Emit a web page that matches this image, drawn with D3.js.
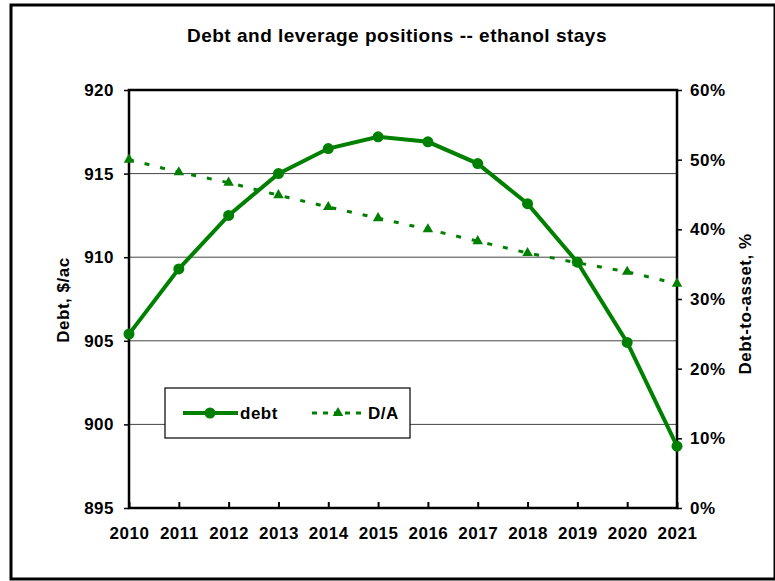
<!DOCTYPE html>
<html>
<head>
<meta charset="utf-8">
<script src="https://cdn.jsdelivr.net/npm/d3@7"></script>
<style>
  body { margin: 0; background: #fff; }
  svg text { font-family: "Liberation Sans", Arial, sans-serif; font-weight: bold; fill: #000; letter-spacing: 0.5px; }
</style>
</head>
<body>
<div id="chart"></div>
<script>
// Chart data
const years = [2010, 2011, 2012, 2013, 2014, 2015, 2016, 2017, 2018, 2019, 2020, 2021];
const debt = [905.4, 909.3, 912.5, 915.0, 916.5, 917.2, 916.9, 915.6, 913.2, 909.7, 904.9, 898.7];
const debtToAsset = [0.500, 0.482, 0.467, 0.449, 0.432, 0.416, 0.400, 0.383, 0.366, 0.352, 0.339, 0.322];
const leftTicks = [895, 900, 905, 910, 915, 920];
const rightTicks = [0, 0.1, 0.2, 0.3, 0.4, 0.5, 0.6];

const settings = {
    width: 775,
    height: 581,
    left: 129,
    right: 677,
    top: 90,
    bottom: 508,
    green: "#008000",
    dash: "5,11",
};

const svg = d3.select("#chart").append("svg")
    .attr("width", settings.width)
    .attr("height", settings.height);

// outer frame
svg.append("rect")
    .attr("x", 11).attr("y", 5)
    .attr("width", 764).attr("height", 574)
    .attr("fill", "none").attr("stroke", "#000").attr("stroke-width", 3);

svg.append("text")
    .attr("x", 397).attr("y", 42)
    .attr("text-anchor", "middle")
    .style("font-size", "19px")
    .text("Debt and leverage positions -- ethanol stays");

const x = d3.scalePoint()
    .domain(years)
    .range([settings.left, settings.right]);

const yLeft = d3.scaleLinear()
    .domain([895, 920])
    .range([settings.bottom, settings.top]);

const yRight = d3.scaleLinear()
    .domain([0, 0.6])
    .range([settings.bottom, settings.top]);

// gridlines
svg.append("g")
    .selectAll("line")
    .data(leftTicks.slice(1, -1))
    .join("line")
    .attr("x1", settings.left).attr("x2", settings.right)
    .attr("y1", d => yLeft(d)).attr("y2", d => yLeft(d))
    .attr("stroke", "#444").attr("stroke-width", 1);

// plot area border
svg.append("rect")
    .attr("x", settings.left).attr("y", settings.top)
    .attr("width", settings.right - settings.left)
    .attr("height", settings.bottom - settings.top)
    .attr("fill", "none").attr("stroke", "#000").attr("stroke-width", 2.5);

// axes
const leftAxis = svg.append("g")
    .attr("transform", `translate(${settings.left},0)`)
    .call(d3.axisLeft(yLeft).tickValues(leftTicks).tickSize(5).tickPadding(10).tickFormat(d3.format("d")));

const rightAxis = svg.append("g")
    .attr("transform", `translate(${settings.right},0)`)
    .call(d3.axisRight(yRight).tickValues(rightTicks).tickSize(5).tickPadding(8).tickFormat(d3.format(".0%")));

const bottomAxis = svg.append("g")
    .attr("transform", `translate(0,${settings.bottom})`)
    .call(d3.axisBottom(x).tickSize(-6).tickPadding(19));

[leftAxis, rightAxis, bottomAxis].forEach(g => {
    g.select(".domain").remove();
    g.selectAll("line").attr("stroke", "#000").attr("stroke-width", 1.5);
    g.selectAll("text").style("font-size", "17px").attr("font-family", null);
});
bottomAxis.selectAll("line").attr("stroke-width", 2);

// axis titles
svg.append("text")
    .attr("transform", "translate(69,300) rotate(-90)")
    .attr("text-anchor", "middle")
    .style("font-size", "17px")
    .text("Debt, $/ac");

svg.append("text")
    .attr("transform", "translate(751,304) rotate(-90)")
    .attr("text-anchor", "middle")
    .style("font-size", "17px")
    .text("Debt-to-asset, %");

// D/A line
const daLine = d3.line()
    .x((d, i) => x(years[i]))
    .y(d => yRight(d));

svg.append("path")
    .datum(debtToAsset)
    .attr("d", daLine)
    .attr("fill", "none")
    .attr("stroke", settings.green)
    .attr("stroke-width", 3)
    .attr("stroke-dasharray", settings.dash);

const tri = d3.symbol().type(d3.symbolTriangle).size(48);
svg.append("g")
    .selectAll("path")
    .data(debtToAsset)
    .join("path")
    .attr("d", tri)
    .attr("transform", (d, i) => `translate(${x(years[i])},${yRight(d)})`)
    .attr("fill", settings.green);

// debt line
const debtLine = d3.line()
    .x((d, i) => x(years[i]))
    .y(d => yLeft(d));

svg.append("path")
    .datum(debt)
    .attr("d", debtLine)
    .attr("fill", "none")
    .attr("stroke", settings.green)
    .attr("stroke-width", 4);

svg.append("g")
    .selectAll("circle")
    .data(debt)
    .join("circle")
    .attr("cx", (d, i) => x(years[i]))
    .attr("cy", d => yLeft(d))
    .attr("r", 5.5)
    .attr("fill", settings.green);

// legend
const legend = svg.append("g");
legend.append("rect")
    .attr("x", 165).attr("y", 388)
    .attr("width", 245).attr("height", 50)
    .attr("fill", "#fff").attr("stroke", "#000").attr("stroke-width", 1.2);

legend.append("line")
    .attr("x1", 183).attr("x2", 238).attr("y1", 413).attr("y2", 413)
    .attr("stroke", settings.green).attr("stroke-width", 4);
legend.append("circle")
    .attr("cx", 210).attr("cy", 413).attr("r", 5.5)
    .attr("fill", settings.green);
legend.append("text")
    .attr("x", 240).attr("y", 419)
    .style("font-size", "17px")
    .text("debt");

legend.append("line")
    .attr("x1", 312).attr("x2", 364).attr("y1", 413).attr("y2", 413)
    .attr("stroke", settings.green).attr("stroke-width", 3)
    .attr("stroke-dasharray", "5,6");
legend.append("path")
    .attr("d", tri)
    .attr("transform", "translate(338,413)")
    .attr("fill", settings.green);
legend.append("text")
    .attr("x", 368).attr("y", 419)
    .style("font-size", "17px")
    .text("D/A");
</script>
</body>
</html>
